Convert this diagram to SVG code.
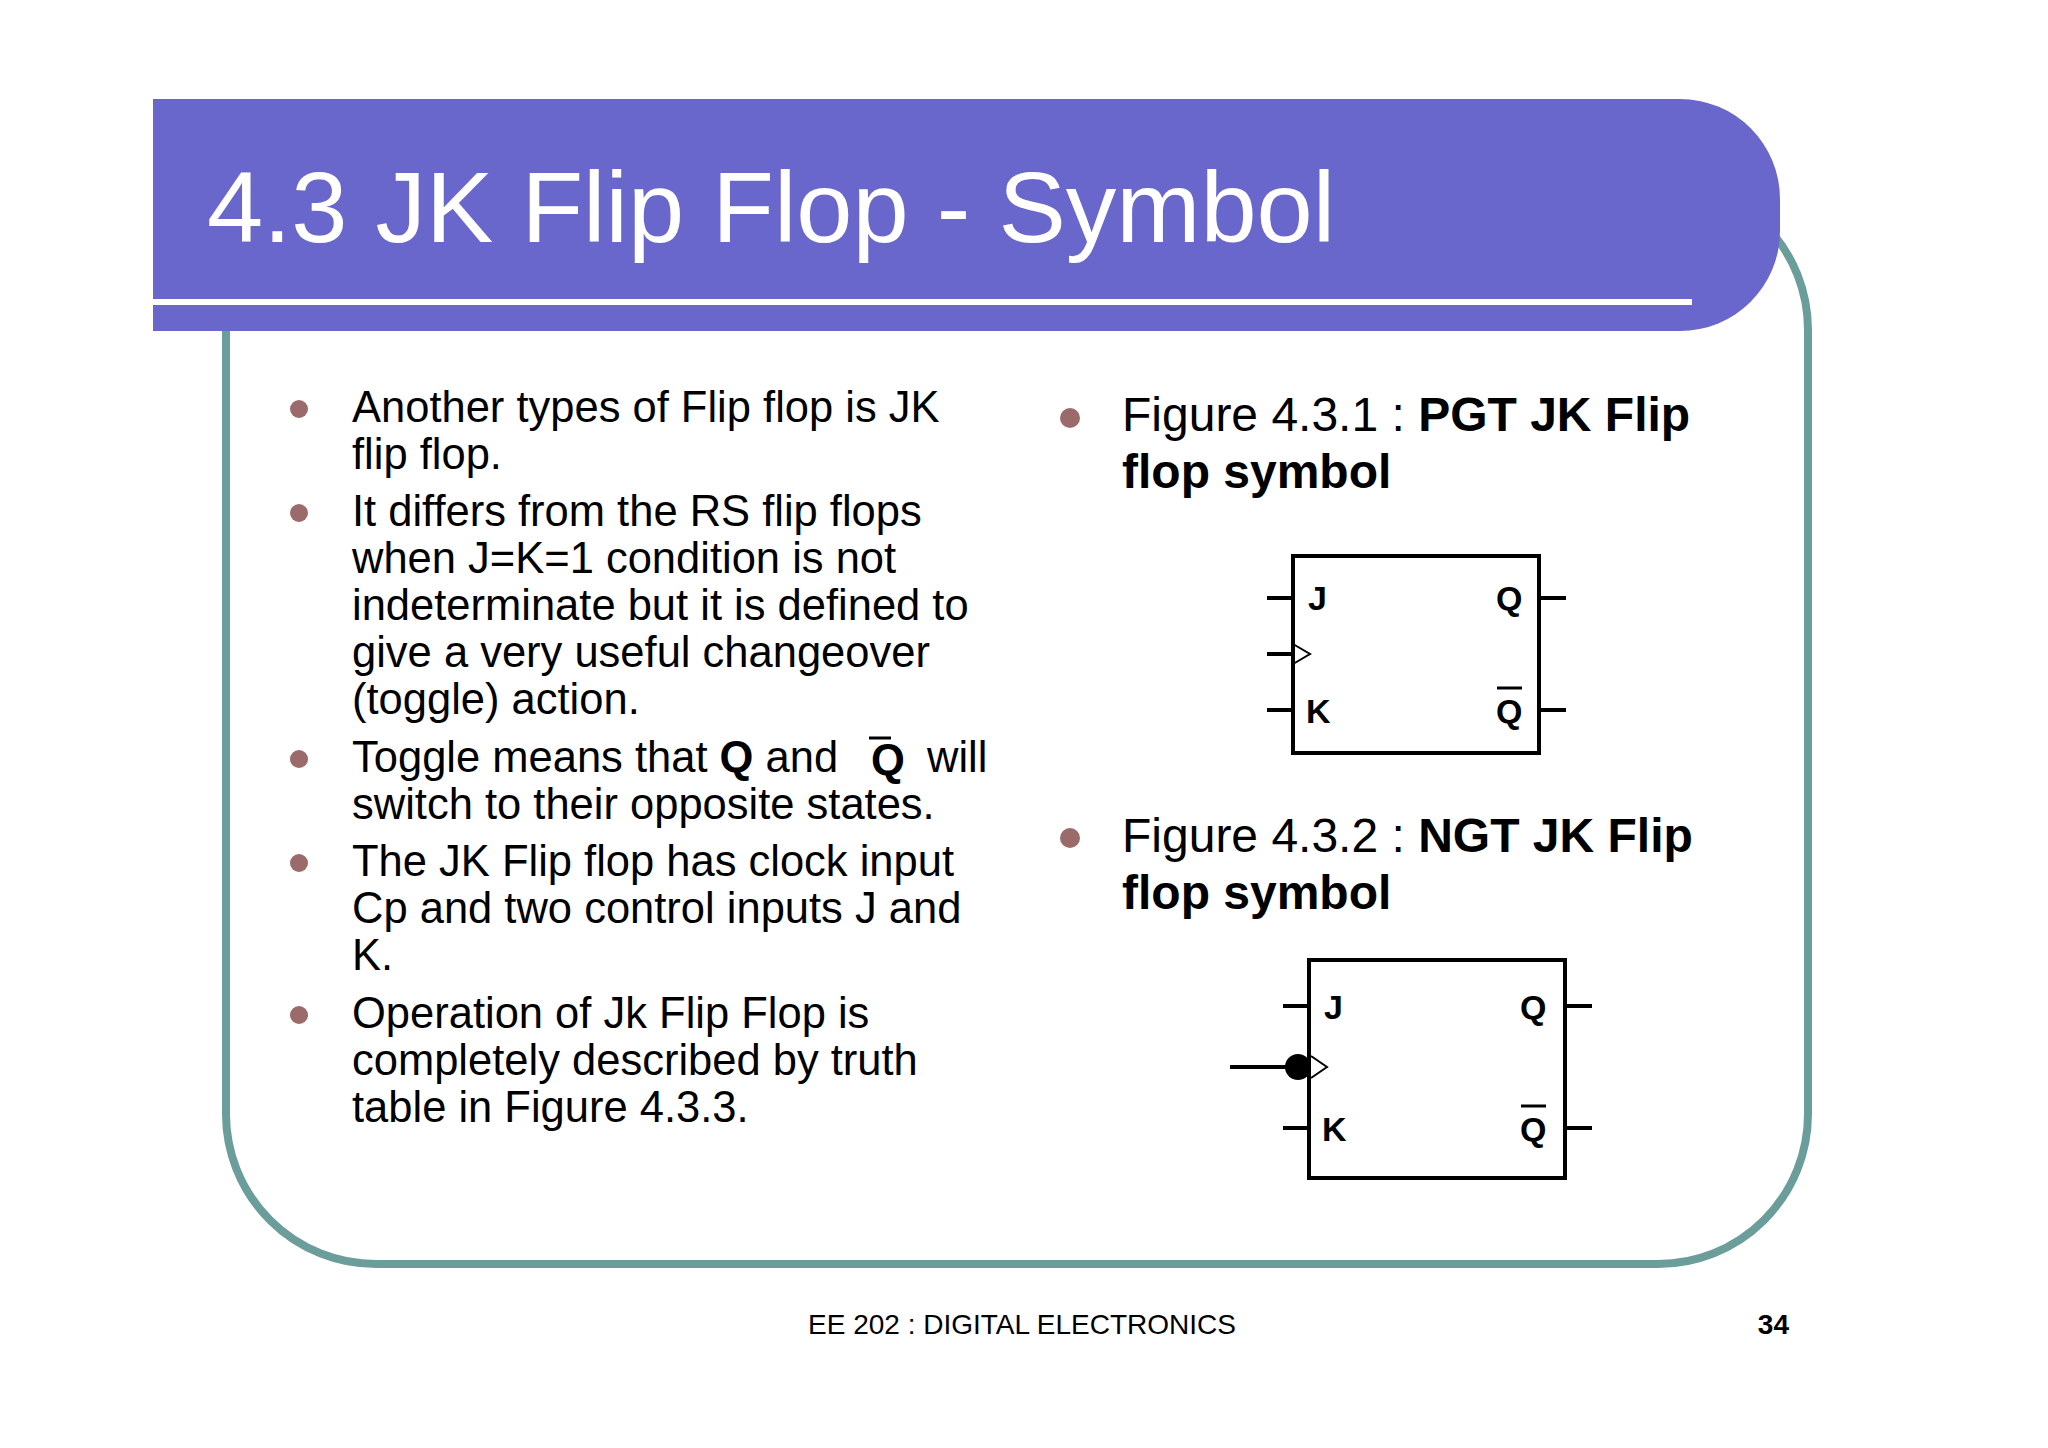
<svg xmlns="http://www.w3.org/2000/svg" width="2048" height="1448" viewBox="0 0 2048 1448">
<style>
text{font-family:"Liberation Sans",Arial,sans-serif;fill:#000}
.b{font-size:43.5px}
.r{font-size:48px}
.bl{fill:#9b6b6b}
.ln{stroke:#000;stroke-width:4;fill:none}
.pin{font-size:34px;font-weight:bold}
</style>
<rect width="2048" height="1448" fill="#fff"/>
<g id="frame">
<rect x="226" y="180" width="1582" height="1084" rx="150" fill="none" stroke="#6b9e9b" stroke-width="8"/>
<path d="M153 99 H1680 A100 100 0 0 1 1780 199 V231 A100 100 0 0 1 1680 331 H153 Z" fill="#6a67cc"/>
<line x1="153" y1="302" x2="1692" y2="302" stroke="#fff" stroke-width="6"/>
<text x="207" y="242" style="font-size:101px;fill:#fff">4.3 JK Flip Flop - Symbol</text>
</g>
<g id="left-text">
<circle class="bl" cx="299" cy="409" r="9"/><circle class="bl" cx="299" cy="513" r="9"/><circle class="bl" cx="299" cy="759" r="9"/><circle class="bl" cx="299" cy="863" r="9"/><circle class="bl" cx="299" cy="1015" r="9"/>
<text class="b" x="352" y="422">Another types of Flip flop is JK</text>
<text class="b" x="352" y="469">flip flop.</text>
<text class="b" x="352" y="526">It differs from the RS flip flops</text>
<text class="b" x="352" y="573">when J=K=1 condition is not</text>
<text class="b" x="352" y="620">indeterminate but it is defined to</text>
<text class="b" x="352" y="667">give a very useful changeover</text>
<text class="b" x="352" y="714">(toggle) action.</text>
<text class="b" x="352" y="772">Toggle means that <tspan font-weight="bold">Q</tspan> and</text>
<text class="b" x="871" y="775" font-weight="bold">Q</text>
<text class="b" x="927" y="772">will</text>
<line x1="869" y1="738" x2="891" y2="738" stroke="#000" stroke-width="3"/>
<text class="b" x="352" y="819">switch to their opposite states.</text>
<text class="b" x="352" y="876">The JK Flip flop has clock input</text>
<text class="b" x="352" y="923">Cp and two control inputs J and</text>
<text class="b" x="352" y="970">K.</text>
<text class="b" x="352" y="1028">Operation of Jk Flip Flop is</text>
<text class="b" x="352" y="1075">completely described by truth</text>
<text class="b" x="352" y="1122">table in Figure 4.3.3.</text>
</g>
<g id="right-text">
<circle class="bl" cx="1070" cy="418" r="10"/><circle class="bl" cx="1070" cy="838" r="10"/>
<text class="r" x="1122" y="431">Figure 4.3.1 : <tspan font-weight="bold">PGT JK Flip</tspan></text>
<text class="r" x="1122" y="488" font-weight="bold">flop symbol</text>
<text class="r" x="1122" y="852">Figure 4.3.2 : <tspan font-weight="bold">NGT JK Flip</tspan></text>
<text class="r" x="1122" y="909" font-weight="bold">flop symbol</text>
</g>
<g id="ff1">
<rect class="ln" x="1293" y="556" width="246" height="197"/>
<path class="ln" d="M1267 598H1293M1267 654H1293M1267 710H1293M1539 598H1566M1539 710H1566" stroke-width="3"/>
<path d="M1293 644 L1310 654 L1293 664" fill="none" stroke="#000" stroke-width="2"/>
<text class="pin" x="1308" y="610">J</text><text class="pin" x="1306" y="723">K</text>
<text class="pin" x="1496" y="610">Q</text><text class="pin" x="1496" y="723">Q</text>
<line x1="1497" y1="688" x2="1522" y2="688" stroke="#000" stroke-width="3"/>
</g>
<g id="ff2">
<rect class="ln" x="1309" y="960" width="256" height="218"/>
<path class="ln" d="M1283 1006H1309M1230 1067H1300M1283 1128H1309M1565 1006H1592M1565 1128H1592"/>
<circle cx="1298" cy="1067" r="13"/>
<path d="M1311 1056 L1327 1067 L1311 1078" fill="none" stroke="#000" stroke-width="2"/>
<text class="pin" x="1324" y="1019">J</text><text class="pin" x="1322" y="1141">K</text>
<text class="pin" x="1520" y="1019">Q</text><text class="pin" x="1520" y="1141">Q</text>
<line x1="1521" y1="1106" x2="1546" y2="1106" stroke="#000" stroke-width="3"/>
</g>
<g id="footer">
<text x="1022" y="1334" text-anchor="middle" style="font-size:28px">EE 202 : DIGITAL ELECTRONICS</text>
<text x="1789" y="1334" text-anchor="end" style="font-size:28px;font-weight:bold">34</text>
</g>
</svg>
